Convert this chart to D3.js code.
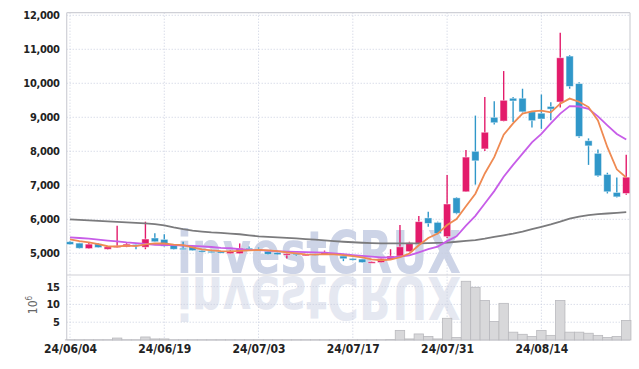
<!DOCTYPE html>
<html>
<head>
<meta charset="utf-8" />
<title>investCRUX candle chart</title>
<script src="https://cdnjs.cloudflare.com/ajax/libs/d3/7.8.5/d3.min.js"></script>
<style>
	body { margin: 0; background: #fff; }
	#chart text { font-family: "DejaVu Sans Condensed", "DejaVu Sans", sans-serif; }
	.grid line { stroke: #c9cedf; stroke-dasharray: 1,2; }
</style>
</head>
<body>
<svg id="chart" width="639" height="369"></svg>
<script>
// daily bars, 24/06/04 .. 24/08/28
const opens  = [5340,5300,5140,5280,5120,5170,5190,5260,5180,5450,5410,5250,5150,5210,5080,5060,5050,4990,4990,5150,5130,5060,5020,4970,5000,4950,4980,4960,5000,4920,4850,4830,4730,4730,4830,4920,5050,5290,6040,5910,5490,6630,6810,8000,8070,9000,8890,9560,9560,9160,9120,9320,9450,10800,9990,8310,7940,7320,6790,6760];
const highs  = [5360,5310,5330,5300,5200,5810,5300,5270,5930,5590,5560,5270,5340,5220,5110,5100,5070,5090,5290,5200,5170,5070,5030,5000,5010,4980,4990,5080,5010,4940,4870,4840,4760,4860,5120,5830,5340,6100,6220,5930,7300,6650,8040,9050,9600,9470,10360,9600,9840,9170,9670,9440,11490,10830,10030,8380,8050,7370,7230,7900];
const lows   = [5250,5140,5130,5160,5110,5160,5180,5120,5120,5330,5190,5110,5110,5070,5030,5020,5020,4980,4980,5110,5090,4960,4950,4850,4930,4930,4940,4950,4950,4770,4790,4720,4720,4720,4820,4900,5040,5280,5780,5560,5450,6150,6800,7020,8010,8790,8880,8860,9140,8700,8660,8910,9290,9840,8400,7600,7250,6760,6640,6720];
const closes = [5260,5150,5270,5170,5190,5220,5270,5210,5420,5340,5210,5120,5130,5080,5050,5040,5030,5060,5150,5120,5110,4970,4960,4990,4970,4970,4950,5040,4960,4840,4800,4730,4750,4850,4920,5190,5310,5930,5880,5580,6450,6180,7830,7720,8560,8840,9500,9480,9160,8900,8950,9240,10750,9910,8440,8160,7280,6810,6660,7240];
// volume, millions of shares
const volumes = [0.05,0.05,0.05,0.05,0.05,0.55,0.05,0.05,0.85,0.3,0.3,0.05,0.05,0.05,0.05,0.05,0.05,0.05,0.05,0.05,0.05,0.05,0.05,0.05,0.05,0.05,0.05,0.05,0.05,0.05,0.05,0.05,0.05,0.05,0.1,2.7,0.3,1.7,1.0,0.3,6.1,0.7,16.5,14.8,11.1,5.2,10.3,2.2,1.6,1.0,2.7,1.3,11.1,2.2,2.2,1.9,1.3,0.7,1.0,5.5];
// moving averages
const ma5  = [5410,5360,5320,5270,5208,5200,5224,5212,5262,5292,5288,5258,5242,5174,5116,5084,5066,5056,5072,5086,5100,5088,5064,5030,5000,4970,4964,4978,4970,4946,4920,4880,4822,4796,4812,4884,4994,5238,5450,5580,5832,6010,6384,6752,7348,7826,8490,8820,9108,9176,9198,9146,9400,9550,9458,9300,8908,8120,7470,7230];
const ma10 = [5470,5450,5430,5400,5375,5350,5320,5300,5275,5250,5244,5241,5227,5218,5204,5186,5162,5149,5123,5101,5092,5077,5060,5051,5043,5035,5026,5021,5000,4973,4945,4922,4900,4883,4879,4902,4937,5030,5123,5196,5358,5502,5811,6101,6464,6829,7250,7602,7930,8262,8512,8818,9110,9329,9317,9249,9027,8760,8510,8344];
const ma60 = [6000,5985,5970,5955,5940,5925,5910,5895,5880,5860,5820,5760,5710,5670,5640,5615,5600,5580,5560,5530,5500,5485,5470,5455,5440,5420,5400,5380,5360,5340,5325,5310,5300,5295,5290,5290,5290,5295,5300,5305,5315,5340,5365,5390,5430,5480,5530,5580,5640,5710,5780,5850,5930,6020,6080,6120,6150,6170,6190,6210];
const priceTicks = [5000,6000,7000,8000,9000,10000,11000,12000];
const volTicks = [5,10,15];
const dateTickIdx = [0,10,20,30,40,50];
const dateTickLabels = ["24/06/04","24/06/19","24/07/03","24/07/17","24/07/31","24/08/14"];

const upColor = "#e31b6b", downColor = "#3097c9";
const pLeft = 66.7, pRight = 630, pTop = 12.7, pSplit = 275, pBottom = 340;

let svg = d3.select("#chart");
let x = d3.scaleLinear().domain([-0.35, 59.4]).range([pLeft, pRight]);
let y = d3.scaleLinear().domain([4362, 12076]).range([pSplit, pTop]);
let yv = d3.scaleLinear().domain([0, 18.26]).range([pBottom, pSplit]);
let bw = x(1) - x(0);

// watermark with its reflection
let wm = svg.append("g").attr("class", "watermark")
	.style("font-family", "'Liberation Sans', Arial, sans-serif")
	.style("font-weight", "bold");
wm.append("text").attr("x", 177).attr("y", 273).attr("font-size", 58)
	.attr("textLength", 284).attr("lengthAdjust", "spacingAndGlyphs")
	.attr("fill", "#cdd4e7").text("investCRUX");
wm.append("text").attr("x", 177).attr("y", 273).attr("font-size", 58)
	.attr("textLength", 284).attr("lengthAdjust", "spacingAndGlyphs")
	.attr("transform", "translate(0,550) scale(1,-1)")
	.attr("fill", "#e5e8f1").text("investCRUX");

// grid
let grid = svg.append("g").attr("class", "grid");
grid.selectAll(".hp").data(priceTicks).enter().append("line")
	.attr("x1", pLeft).attr("x2", pRight).attr("y1", d => y(d)).attr("y2", d => y(d));
grid.selectAll(".hv").data(volTicks).enter().append("line")
	.attr("x1", pLeft).attr("x2", pRight).attr("y1", d => yv(d)).attr("y2", d => yv(d));
grid.selectAll(".vx").data(dateTickIdx).enter().append("line")
	.attr("x1", d => x(d)).attr("x2", d => x(d)).attr("y1", pTop).attr("y2", pBottom);

// frame
let frame = svg.append("g").attr("stroke", "#cfd0d6").attr("stroke-width", 1.2);
frame.append("line").attr("x1", pLeft).attr("x2", pRight).attr("y1", pTop).attr("y2", pTop);
frame.append("line").attr("x1", pLeft).attr("x2", pRight).attr("y1", pSplit).attr("y2", pSplit);
frame.append("line").attr("x1", pLeft).attr("x2", pRight).attr("y1", pBottom).attr("y2", pBottom);
frame.append("line").attr("x1", pLeft).attr("x2", pLeft).attr("y1", pTop).attr("y2", pBottom);
frame.append("line").attr("x1", pRight).attr("x2", pRight).attr("y1", pTop).attr("y2", pBottom);

// volume bars
svg.append("g").selectAll("rect").data(volumes).enter().append("rect")
	.attr("x", (d, i) => x(i) - bw / 2)
	.attr("width", bw)
	.attr("y", d => yv(d))
	.attr("height", d => pBottom - yv(d))
	.attr("fill", "#d8d8da")
	.attr("stroke", "#b9b9bd")
	.attr("stroke-width", 0.8);

// candles
let candles = svg.append("g").selectAll("g").data(opens).enter().append("g");
candles.append("line")
	.attr("x1", (d, i) => x(i)).attr("x2", (d, i) => x(i))
	.attr("y1", (d, i) => y(highs[i])).attr("y2", (d, i) => y(lows[i]))
	.attr("stroke", (d, i) => closes[i] >= opens[i] ? upColor : downColor)
	.attr("stroke-width", 1.4);
candles.append("rect")
	.attr("x", (d, i) => x(i) - 3.6)
	.attr("width", 7.2)
	.attr("y", (d, i) => y(Math.max(opens[i], closes[i])))
	.attr("height", (d, i) => Math.max(1.5, Math.abs(y(opens[i]) - y(closes[i]))))
	.attr("fill", (d, i) => closes[i] >= opens[i] ? upColor : downColor)
	.attr("stroke", "rgba(255,255,255,0.55)")
	.attr("stroke-width", 0.8);

// moving averages
let line = d3.line().x((d, i) => x(i)).y(d => y(d));
[[ma60, "#7b7b7d"], [ma10, "#c75de8"], [ma5, "#ef8a52"]].forEach(function(m) {
	svg.append("path").datum(m[0]).attr("d", line)
		.attr("fill", "none").attr("stroke", m[1]).attr("stroke-width", 1.8);
});

// axes
svg.append("g").attr("transform", `translate(${pLeft - 4},0)`)
	.call(d3.axisLeft(y).tickValues(priceTicks).tickFormat(d3.format(",")).tickSize(0))
	.call(g => g.select(".domain").remove())
	.selectAll("text").attr("font-size", 11).attr("font-weight", "bold")
	.attr("letter-spacing", -0.3).attr("fill", "#222");
svg.append("g").attr("transform", `translate(${pLeft - 4},0)`)
	.call(d3.axisLeft(yv).tickValues(volTicks).tickSize(0))
	.call(g => g.select(".domain").remove())
	.selectAll("text").attr("font-size", 11).attr("font-weight", "bold")
	.attr("letter-spacing", -0.3).attr("fill", "#222");
svg.append("g").attr("transform", `translate(0,${pBottom + 1})`)
	.call(d3.axisBottom(x).tickValues(dateTickIdx).tickFormat((d, i) => dateTickLabels[i]).tickSize(0))
	.call(g => g.select(".domain").remove())
	.selectAll("text").attr("font-size", 12).attr("font-weight", "bold").attr("fill", "#222");

// unit label
let unit = svg.append("text").attr("transform", "translate(37,305) rotate(-90)")
	.attr("text-anchor", "middle").attr("font-size", 12).attr("fill", "#666");
unit.append("tspan").text("10");
unit.append("tspan").attr("dy", -5).attr("font-size", 8).text("6");
</script>
</body>
</html>
